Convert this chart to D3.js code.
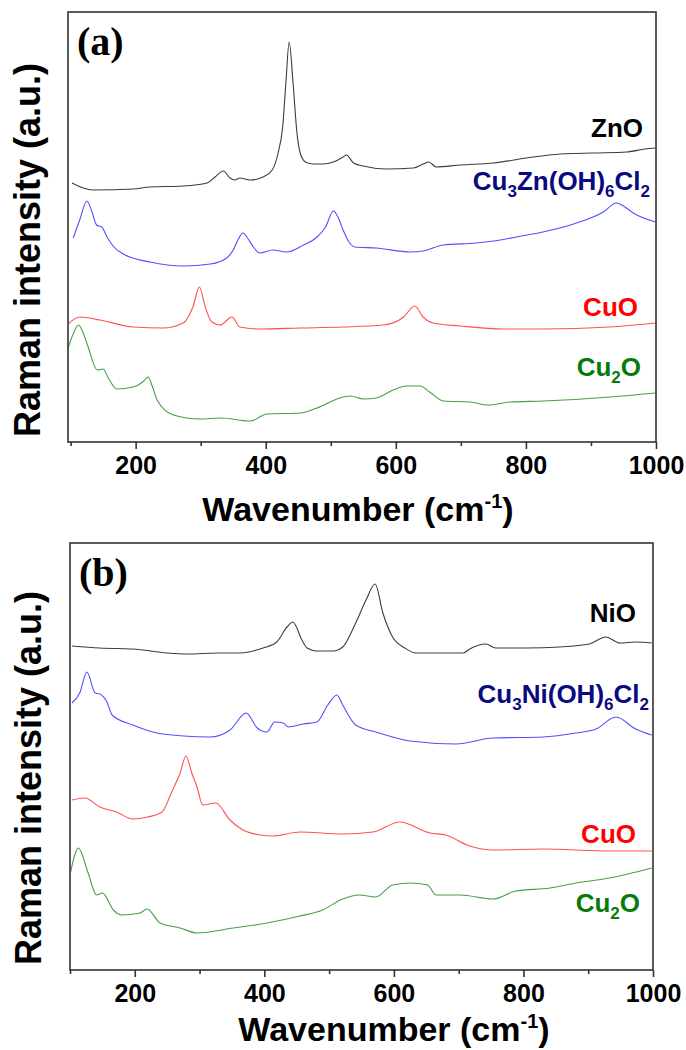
<!DOCTYPE html>
<html>
<head>
<meta charset="utf-8">
<script src="https://cdn.jsdelivr.net/npm/d3@7"></script>
<style>
  body { margin: 0; background: #fff; }
  svg { display: block; }
  text { font-family: "Liberation Sans", Arial, sans-serif; font-weight: bold; }
</style>
</head>
<body>
<div id="vis"></div>
<script>
// wavenumber (cm-1), intensity (a.u.)
const znoA = [[102,259],[134,252],[196,253],[222,255],[273,256],[310,259],[322,265],[335,271],[345,264],[353,262],[360,264],[376,262],[396,265],[410,272],[419,289],[426,315],[431,359],[436,400],[442,359],[448,309],[453,289],[461,280],[473,278],[488,278],[504,280],[519,285],[524,287],[535,279],[550,276],[585,273],[627,274],[642,278],[651,280],[662,275],[699,277],[750,279],[801,284],[853,288],[904,289],[955,290],[983,293],[999,294]];
const cuznA = [[104,204],[114,222],[125,241],[132,232],[140,217],[148,215],[156,205],[168,194],[181,188],[222,180],[273,176],[315,178],[340,184],[350,192],[358,203],[365,209],[372,204],[381,195],[391,189],[411,192],[432,190],[458,197],[479,205],[492,215],[504,231],[511,225],[519,212],[528,200],[537,195],[570,194],[622,190],[642,191],[673,197],[724,199],[761,202],[785,205],[826,210],[878,219],[919,230],[939,239],[950,236],[965,229],[999,220]];
const cuoA = [[96,118],[114,125],[145,122],[196,115],[242,114],[273,119],[288,135],[298,155],[307,135],[317,120],[330,117],[348,125],[360,115],[391,113],[453,114],[519,115],[581,117],[612,125],[629,136],[642,125],[657,119],[699,116],[765,113],[826,113],[929,115],[999,119]];
const cu2oA = [[96,94],[104,108],[112,117],[120,108],[127,95],[141,72],[150,73],[158,64],[171,53],[196,55],[211,60],[219,65],[226,55],[233,42],[258,27],[299,23],[330,24],[376,21],[402,28],[453,29],[479,34],[519,45],[531,46],[550,43],[570,44],[596,52],[616,56],[637,56],[652,50],[673,41],[714,40],[742,37],[776,40],[827,41],[929,45],[999,49]];

const nioB = [[103,324],[146,322],[197,321],[250,317],[282,316],[327,317],[362,317],[398,322],[419,328],[435,343],[444,348],[458,330],[466,322],[481,319],[506,319],[521,323],[541,347],[557,370],[571,386],[583,357],[598,333],[617,322],[634,317],[676,317],[707,317],[717,321],[742,326],[757,322],[804,322],[856,323],[902,326],[927,333],[949,327],[973,328],[998,327]];
const cuniB = [[103,267],[115,277],[126,298],[139,277],[146,276],[157,268],[165,255],[197,245],[228,238],[275,234],[316,233],[347,240],[372,257],[389,242],[404,238],[416,248],[429,247],[437,243],[460,246],[481,248],[498,265],[512,275],[521,265],[541,245],[572,238],[625,229],[696,226],[753,232],[830,233],[881,237],[912,241],[943,253],[973,241],[998,235]];
const cuoB = [[103,170],[123,172],[146,163],[172,158],[197,151],[220,153],[242,158],[257,178],[270,197],[279,214],[288,197],[296,183],[305,165],[325,167],[347,150],[362,142],[393,135],[413,134],[455,138],[521,136],[568,138],[609,148],[656,137],[680,135],[717,124],[753,120],[830,121],[933,119],[998,119]];
const cu2oB = [[101,98],[113,122],[128,97],[141,75],[150,77],[167,60],[180,55],[208,57],[219,61],[239,47],[270,42],[296,37],[352,42],[404,47],[455,54],[490,60],[521,71],[547,75],[572,73],[598,85],[625,87],[652,85],[665,75],[702,75],[753,71],[788,79],[841,82],[881,87],[933,92],[998,102]];

const majorTicks = [200, 400, 600, 800, 1000];
const minorTicks = [100, 300, 500, 700, 900];

const panels = [
  { tag: "(a)", x0: 68, x1: 656, y0: 12, y1: 442, xmin: 96, ymax: 430,
    titleX: 358, titleY: 521, yTitleX: 28, yTitleY: 250,
    series: [
      { data: znoA,  line: "#3c3c3c", col: "#000000", label: "ZnO",              lx: 643, ly: 137 },
      { data: cuznA, line: "#5050ff", col: "#0a0a80", label: "Cu_3Zn(OH)_6Cl_2", lx: 650, ly: 190 },
      { data: cuoA,  line: "#ff5050", col: "#ff0000", label: "CuO",              lx: 638, ly: 316 },
      { data: cu2oA, line: "#45a045", col: "#087a08", label: "Cu_2O",            lx: 641, ly: 376 }
    ] },
  { tag: "(b)", x0: 70, x1: 653, y0: 543, y1: 970, xmin: 100, ymax: 427,
    titleX: 394, titleY: 1041, yTitleX: 29, yTitleY: 778,
    series: [
      { data: nioB,  line: "#3c3c3c", col: "#000000", label: "NiO",              lx: 636, ly: 622 },
      { data: cuniB, line: "#5050ff", col: "#0a0a80", label: "Cu_3Ni(OH)_6Cl_2", lx: 649, ly: 703 },
      { data: cuoB,  line: "#ff5050", col: "#ff0000", label: "CuO",              lx: 636, ly: 843 },
      { data: cu2oB, line: "#45a045", col: "#087a08", label: "Cu_2O",            lx: 640, ly: 912 }
    ] }
];

const svg = d3.select("#vis").append("svg")
  .attr("width", 686)
  .attr("height", 1050);

// writes "Cu_3O" as Cu + subscript 3 + O
function chemLabel(sel, str) {
  const parts = str.split(/(_\d)/).filter(s => s.length);
  let down = false;
  parts.forEach(p => {
    if (p[0] === "_") {
      sel.append("tspan").attr("dy", down ? 0 : 7).attr("font-size", 17).text(p[1]);
      down = true;
    } else {
      sel.append("tspan").attr("dy", down ? -7 : 0).text(p);
      down = false;
    }
  });
}

panels.forEach((p, i) => {
  const x = d3.scaleLinear().domain([p.xmin, 1000]).range([p.x0, p.x1]);
  const y = d3.scaleLinear().domain([0, p.ymax]).range([p.y1, p.y0]);
  const g = svg.append("g");

  g.append("clipPath").attr("id", "clip" + i)
    .append("rect")
    .attr("x", p.x0).attr("y", p.y0)
    .attr("width", p.x1 - p.x0).attr("height", p.y1 - p.y0);

  const line = d3.line()
    .curve(d3.curveMonotoneX)
    .x(d => x(d[0]))
    .y(d => y(d[1]));

  p.series.forEach(s => {
    g.append("path")
      .datum(s.data)
      .attr("clip-path", `url(#clip${i})`)
      .attr("fill", "none")
      .attr("stroke", s.line)
      .attr("stroke-width", 1.1)
      .attr("stroke-linejoin", "round")
      .attr("d", line);

    const t = g.append("text")
      .attr("x", s.lx).attr("y", s.ly)
      .attr("text-anchor", "end")
      .attr("font-size", 26)
      .attr("fill", s.col);
    chemLabel(t, s.label);
  });

  // frame
  g.append("rect")
    .attr("x", p.x0).attr("y", p.y0)
    .attr("width", p.x1 - p.x0).attr("height", p.y1 - p.y0)
    .attr("fill", "none")
    .attr("stroke", "#333")
    .attr("stroke-width", 1.6);

  // bottom axis
  const axis = g.append("g").attr("transform", `translate(0,${p.y1})`);
  axis.call(d3.axisBottom(x).tickValues(majorTicks).tickSize(7).tickPadding(7).tickFormat(d3.format("d")));
  axis.append("g").call(d3.axisBottom(x).tickValues(minorTicks).tickSize(4).tickFormat(""));
  axis.selectAll(".domain").remove();
  axis.selectAll("line").attr("stroke", "#333").attr("stroke-width", 1.6);
  axis.selectAll("text")
    .attr("font-size", 25)
    .style("font-family", "'Liberation Sans', Arial, sans-serif")
    .style("font-weight", "bold")
    .attr("fill", "#000");

  // panel tag
  g.append("text")
    .attr("x", p.x0 + 9).attr("y", p.y0 + 43)
    .style("font-family", "'Liberation Serif', 'Times New Roman', serif")
    .attr("font-size", 40)
    .text(p.tag);

  // x title
  const xt = g.append("text")
    .attr("x", p.titleX).attr("y", p.titleY)
    .attr("text-anchor", "middle")
    .attr("font-size", 34);
  xt.append("tspan").text("Wavenumber (cm");
  xt.append("tspan").attr("dy", -13).attr("font-size", 20).text("-1");
  xt.append("tspan").attr("dy", 13).text(")");

  // y title
  g.append("text")
    .attr("transform", `translate(${p.yTitleX + 12},${p.yTitleY}) rotate(-90)`)
    .attr("text-anchor", "middle")
    .attr("font-size", 36)
    .text("Raman intensity (a.u.)");
});
</script>
</body>
</html>
